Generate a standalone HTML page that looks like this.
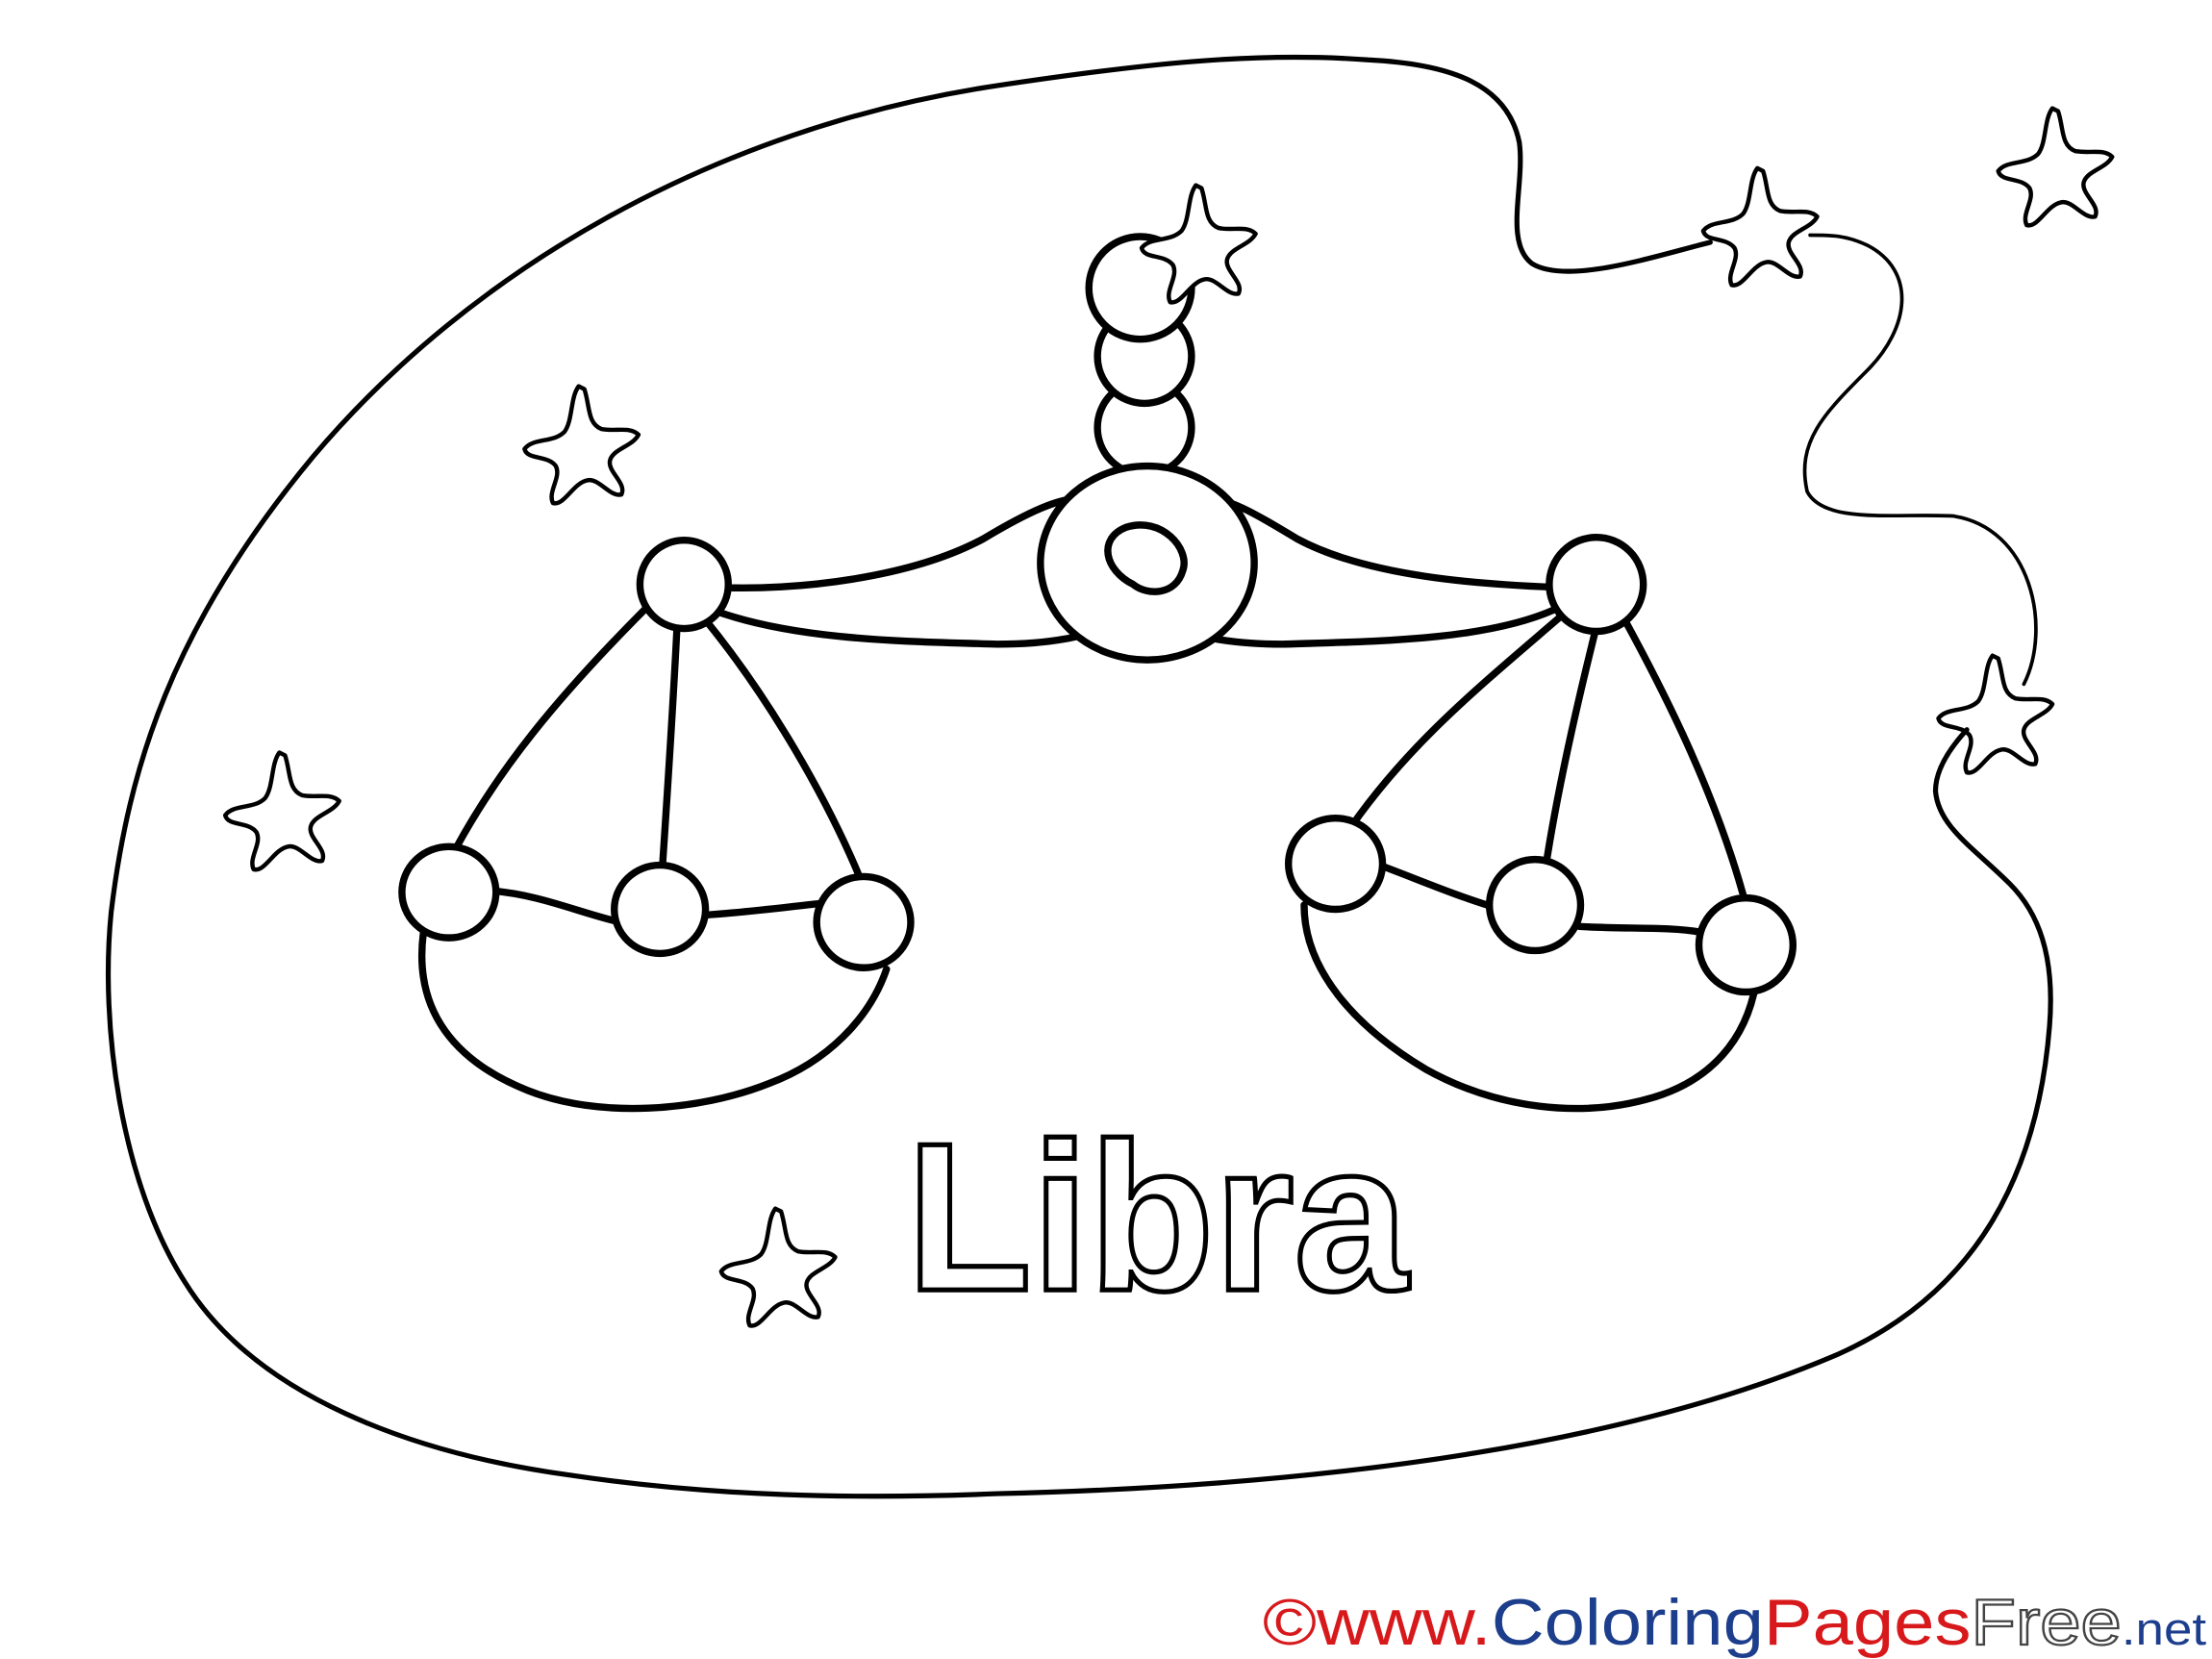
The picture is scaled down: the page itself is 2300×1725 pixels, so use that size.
<!DOCTYPE html>
<html><head><meta charset="utf-8"><style>
html,body{margin:0;padding:0;background:#fff;width:2300px;height:1725px;overflow:hidden}
svg{display:block}
</style></head><body>
<svg width="2300" height="1725" viewBox="0 0 1552 1164" xmlns="http://www.w3.org/2000/svg">
<defs>
<path id="st" d="M0,-42 C4,-30 2,-18 12,-14 C22,-12 32,-16 38,-10 C34,-2 20,0 18,8 C16,16 30,24 26,32 C18,34 10,20 2,22 C-8,24 -14,40 -22,38 C-26,30 -16,20 -20,12 C-26,4 -40,8 -42,0 C-36,-8 -22,-4 -14,-12 C-8,-20 -10,-36 -4,-44 Z"/>
</defs>
<rect width="1552" height="1164" fill="#fff"/>
<g fill="none" stroke="#000" stroke-linecap="round" stroke-linejoin="round">
<path stroke-width="3.5" d="M1200,170 C1160,180 1100,200 1075,185 C1055,170 1070,130 1066,100 C1058,60 1020,45 960,42 C880,36 800,45 700,60 C500,90 330,190 220,320 C120,440 90,540 78,640 C70,720 85,830 130,900 C180,980 290,1020 400,1035 C500,1050 600,1052 700,1048 C950,1042 1150,1010 1290,950 C1390,905 1430,820 1438,720 C1442,670 1430,640 1410,620 C1385,595 1360,580 1358,555 C1358,540 1368,525 1380,512"/>
<path stroke-width="2.5" d="M1420,480 C1440,440 1425,370 1370,362 C1330,360 1280,368 1268,345 C1260,310 1280,290 1310,260 C1340,230 1345,190 1310,172 C1295,165 1285,165 1270,165"/>
<g stroke-width="3">
<use href="#st" transform="translate(410,315)"/>
<use href="#st" transform="translate(200,572)"/>
<use href="#st" transform="translate(548,892)"/>
<use href="#st" transform="translate(1237,162)"/>
<use href="#st" transform="translate(1444,120)"/>
<use href="#st" transform="translate(1402,504)"/>
</g>
<g stroke-width="5" fill="#fff">
<circle cx="803" cy="300" r="33"/>
<circle cx="803" cy="250" r="33"/>
<circle cx="800" cy="202" r="36"/>
</g>
<use href="#st" transform="translate(843,174)" stroke-width="3" fill="#fff"/>
<g stroke-width="5">
<path d="M500,412 C560,415 640,405 690,378 C720,360 745,348 760,350"/>
<path d="M500,428 C560,450 640,450 700,452 C740,452 760,446 780,440"/>
<path d="M1090,412 C1040,410 960,405 910,378 C880,360 860,348 845,350"/>
<path d="M1090,428 C1040,450 960,450 900,452 C860,452 840,446 820,440"/>
<path d="M455,425 C390,490 350,540 320,595"/>
<path d="M475,440 C472,500 468,560 465,605"/>
<path d="M495,435 C540,490 580,560 603,615"/>
<path d="M1098,430 C1040,480 990,520 948,580"/>
<path d="M1120,440 C1105,500 1092,560 1085,605"/>
<path d="M1140,435 C1170,490 1205,560 1225,635"/>
<path d="M297,655 C290,710 320,745 370,765 C420,785 490,780 540,760 C580,745 610,715 622,680"/>
<path d="M345,625 C380,628 405,640 435,647"/>
<path d="M495,642 C525,640 555,636 575,634"/>
<path d="M915,635 C915,680 950,720 1000,750 C1050,778 1110,785 1160,770 C1200,758 1225,730 1232,690"/>
<path d="M968,607 C995,617 1020,628 1050,637"/>
<path d="M1108,650 C1140,652 1170,650 1193,654"/>
</g>
<g stroke-width="5" fill="#fff">
<ellipse cx="805" cy="395" rx="75" ry="68"/>
<path d="M790,370 C815,362 835,385 830,400 C825,418 805,418 795,410 C775,400 770,378 790,370Z"/>
<circle cx="480" cy="410" r="31"/>
<circle cx="1120" cy="410" r="33"/>
<ellipse cx="315" cy="626" rx="33" ry="32"/>
<ellipse cx="463" cy="638" rx="32" ry="31"/>
<ellipse cx="606" cy="647" rx="33" ry="32"/>
<ellipse cx="937" cy="606" rx="33" ry="32"/>
<ellipse cx="1077" cy="635" rx="32" ry="32"/>
<ellipse cx="1225" cy="663" rx="33" ry="33"/>
</g>
</g>
<text x="636" y="905" font-family="Liberation Sans, sans-serif" font-weight="bold" font-size="148" fill="#fff" stroke="#000" stroke-width="3.5" textLength="352" lengthAdjust="spacingAndGlyphs">Libra</text>
<text x="886" y="1154" font-family="Liberation Sans, sans-serif" font-size="46" textLength="662" lengthAdjust="spacingAndGlyphs"><tspan fill="#d7191c">©www.</tspan><tspan fill="#1d3e8c">Coloring</tspan><tspan fill="#d7191c">Pages</tspan><tspan fill="#fff" stroke="#444" stroke-width="1.5">Free</tspan><tspan fill="#1d3e8c" font-size="32">.net</tspan></text>
</svg>
</body></html>
